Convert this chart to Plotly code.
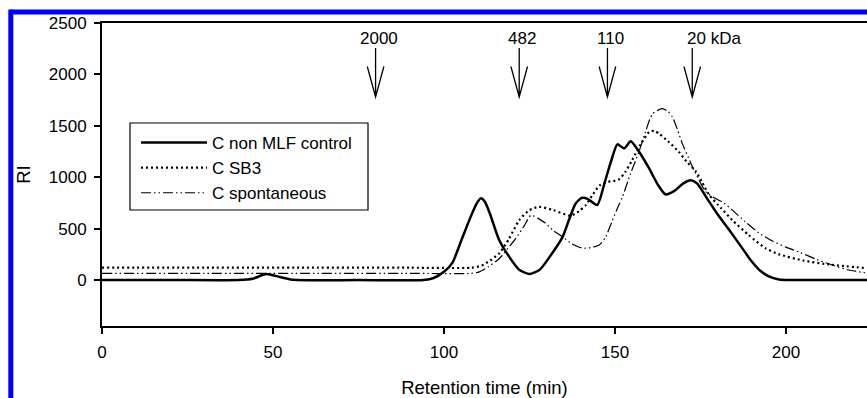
import plotly.graph_objects as go

# ---------------- data ----------------
time_ctrl = [0, 20, 40, 44, 48, 52, 56, 75, 94, 97, 100, 102.5, 105, 107.5, 109.5, 110.8, 112, 113.5,
             116, 119, 122, 125, 128, 131, 134.7, 136.5, 138.5, 140.4, 142, 144.8, 147, 149, 150.7,
             152.7, 154.6, 157, 160, 162.5, 164.8, 167.5, 170, 172.2, 174, 177, 180, 184, 187,
             190, 192.5, 195, 198, 201, 205, 215, 223.7]
ri_ctrl = [0, 0, 0, 12, 58, 30, 2, 0, 0, 20, 80, 170, 380, 590, 740, 795, 760, 640,
           400, 230, 100, 58, 100, 230, 420, 580, 745, 800, 790, 730, 950, 1170, 1320,
           1280, 1350, 1250, 1085, 930, 832, 870, 940, 970, 940, 790, 640, 460, 320,
           180, 90, 35, 6, 0, 0, 0, 0]

time_sb3 = [0, 30, 60, 90, 108, 111, 113.5, 116.2, 119, 122, 125, 127.8, 132, 137, 139.5, 141.5,
            143.5, 145.5, 148, 151, 153, 155, 157.5, 160, 161.5, 163, 165.5, 168.7, 171, 173.6,
            175.5, 177.5, 181, 184.3, 189, 194, 198, 205, 213, 223.7]
ri_sb3 = [120, 120, 120, 120, 120, 140, 190, 260, 400, 583, 680, 712, 680, 625, 670, 730,
          830, 920, 955, 975, 1050, 1165, 1320, 1440, 1452, 1420, 1350, 1246, 1150, 1060,
          950, 830, 700, 583, 440, 310, 250, 190, 150, 115]

time_spon = [0, 30, 60, 90, 108, 110.3, 113, 116.2, 118.5, 121, 123.5, 125.4, 127.5, 129.8, 132,
             134.7, 137.5, 140.5, 143, 145.4, 147.3, 149, 151, 152.2, 154.5, 157, 159, 161,
             163.8, 165.5, 166.8, 168.3, 169.7, 171.5, 173.1, 176.5, 179, 181.4, 184, 188,
             192, 196, 200, 204, 209, 213.5, 218, 223.7]
ri_spon = [65, 65, 65, 65, 65, 80, 130, 210, 300, 405, 530, 630, 600, 550, 480,
           420, 350, 310, 315, 340, 420, 560, 720, 810, 1030, 1246, 1450, 1618,
           1667, 1640, 1586, 1460, 1327, 1190, 1068, 860, 800, 760, 690, 570,
           460, 380, 320, 270, 200, 146, 100, 68]

series_names = ["C non MLF control", "C SB3", "C spontaneous"]

marker_times = [80, 122, 147.8, 172.6]
marker_labels = ["2000", "482", "110", "20 kDa"]

x_ticks = [0, 50, 100, 150, 200]
y_ticks = [0, 500, 1000, 1500, 2000, 2500]

# ---------------- layout constants ----------------
W, H = 867, 398
ML, MR, MT, MB = 102, 0, 23, 72
PW, PH = W - ML - MR, H - MT - MB
FONT = "Liberation Sans, Arial, Helvetica, sans-serif"


def px_x(px):
    return (px - ML) / PW


def px_y(py):
    return (H - MB - py) / PH


fig = go.Figure()
fig.add_trace(go.Scatter(x=time_ctrl, y=ri_ctrl, mode="lines", name=series_names[0],
                         line=dict(color="black", width=2.5, shape="spline", smoothing=0.6)))
fig.add_trace(go.Scatter(x=time_sb3, y=ri_sb3, mode="lines", name=series_names[1],
                         line=dict(color="black", width=2.2, dash="2px,3px", shape="spline", smoothing=0.6)))
fig.add_trace(go.Scatter(x=time_spon, y=ri_spon, mode="lines", name=series_names[2],
                         line=dict(color="black", width=1.2, dash="10px,3px,1.5px,3px,1.5px,3px",
                                   shape="spline", smoothing=0.6)))

shapes = []
# blue frame (left and top)
shapes.append(dict(type="line", xref="paper", yref="paper", x0=px_x(10.8), x1=px_x(W + 5),
                   y0=px_y(12), y1=px_y(12), line=dict(color="#0000ff", width=5)))
shapes.append(dict(type="line", xref="paper", yref="paper", x0=px_x(10.8), x1=px_x(10.8),
                   y0=px_y(9.5), y1=px_y(H + 5), line=dict(color="#0000ff", width=5)))
# legend box
shapes.append(dict(type="rect", xref="paper", yref="paper", x0=px_x(130), x1=px_x(368),
                   y0=px_y(210), y1=px_y(123), line=dict(color="black", width=1.2),
                   fillcolor="rgba(0,0,0,0)"))
# molecular weight marker arrows
for t in marker_times:
    shapes.append(dict(type="path", xref="x", yref="paper", xsizemode="pixel", ysizemode="pixel",
                       xanchor=t, yanchor=px_y(97),
                       path="M0,0 L0,49 M-8.3,30.5 L0,0 L8.3,30.5",
                       line=dict(color="black", width=1.3)))

annotations = []
for t, lab in zip(marker_times, marker_labels):
    is_kda = lab.endswith("kDa")
    annotations.append(dict(x=t, y=px_y(38), xref="x", yref="paper", text=lab, showarrow=False,
                            xanchor="left" if is_kda else "center", yanchor="middle",
                            xshift=-7 if is_kda else 3,
                            font=dict(family=FONT, size=17, color="black")))

fig.update_layout(
    width=W, height=H,
    margin=dict(l=ML, r=MR, t=MT, b=MB, pad=0),
    paper_bgcolor="white", plot_bgcolor="white",
    font=dict(family=FONT, size=17, color="black"),
    shapes=shapes, annotations=annotations,
    showlegend=True,
    legend=dict(x=px_x(136), y=px_y(125), xanchor="left", yanchor="top",
                bgcolor="rgba(0,0,0,0)", borderwidth=0, itemwidth=66, tracegroupgap=0,
                font=dict(family=FONT, size=17, color="black")),
)
fig.update_xaxes(range=[0, 223.7], tickvals=x_ticks, showline=True, mirror=True, linecolor="black",
                 linewidth=2, ticks="outside", ticklen=6, tickwidth=2, tickcolor="black",
                 showgrid=False, zeroline=False, ticklabelstandoff=4,
                 tickfont=dict(family=FONT, size=17),
                 title=dict(text="Retention time (min)", font=dict(family=FONT, size=18.5), standoff=21))
fig.update_yaxes(range=[-447, 2500], tickvals=y_ticks, showline=True, linecolor="black",
                 linewidth=2, ticks="outside", ticklen=6, tickwidth=2, tickcolor="black",
                 showgrid=False, zeroline=False, ticklabelstandoff=4,
                 tickfont=dict(family=FONT, size=17),
                 title=dict(text="RI", font=dict(family=FONT, size=18.5), standoff=13))

fig.write_html("out.html", config={"displayModeBar": False},
               post_script="document.body.style.margin='0';")
